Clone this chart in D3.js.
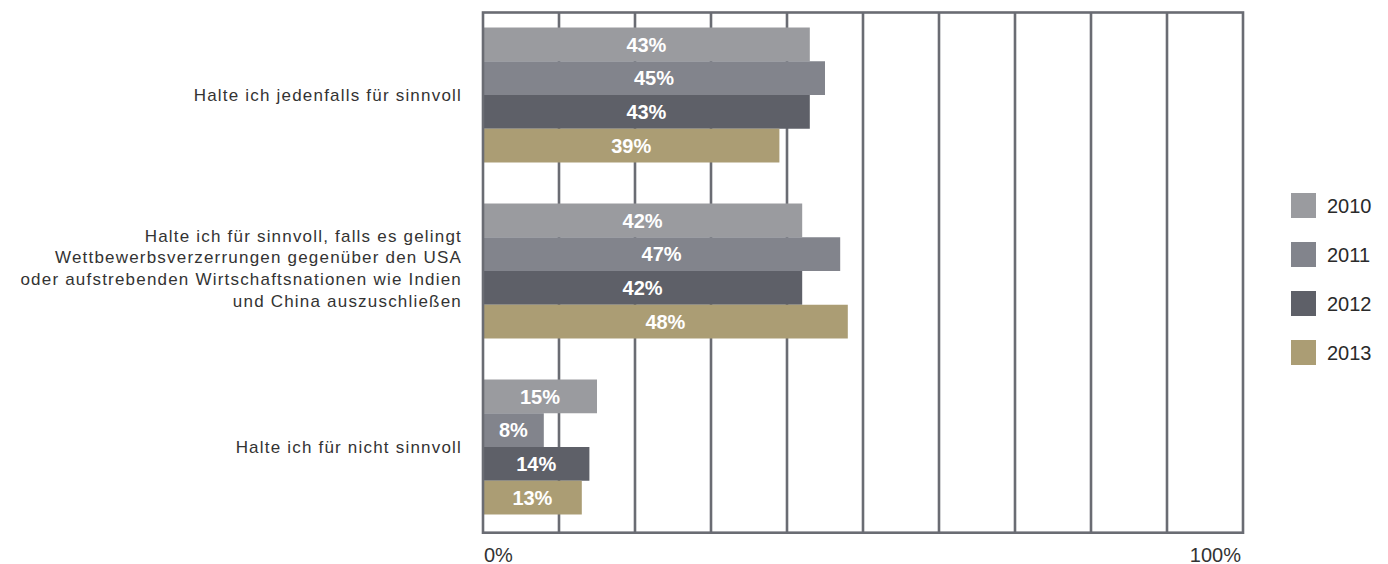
<!DOCTYPE html>
<html>
<head>
<meta charset="utf-8">
<script src="https://cdn.jsdelivr.net/npm/d3@7"></script>
<style>
  html, body { margin: 0; padding: 0; background: #fff; }
  svg { display: block; font-family: "Liberation Sans", Arial, sans-serif; }
</style>
</head>
<body>
<svg id="chart" width="1388" height="564"></svg>
<script>
// Survey answers (one group of bars per answer)
const categories = [
  ["Halte ich jedenfalls für sinnvoll"],
  ["Halte ich für sinnvoll, falls es gelingt",
   "Wettbewerbsverzerrungen gegenüber den USA",
   "oder aufstrebenden Wirtschaftsnationen wie Indien",
   "und China auszuschließen"],
  ["Halte ich für nicht sinnvoll"]
];
const years = ["2010", "2011", "2012", "2013"];
// Share in percent, one array per year, in category order
const values2010 = [43, 42, 15];
const values2011 = [45, 47, 8];
const values2012 = [43, 42, 14];
const values2013 = [39, 48, 13];
const tickLabels = ["0%", "100%"];
const gridTicks = [10, 20, 30, 40, 50, 60, 70, 80, 90];

const seriesByYear = [values2010, values2011, values2012, values2013];
const colors = ["#9a9b9f", "#82848c", "#5e6068", "#ab9d74"];
const frameColor = "#6a6c73";

const svg = d3.select("#chart");

const x = d3.scaleLinear().domain([0, 100]).range([483, 1243]);
const yGroup = d3.scaleBand()
  .domain(d3.range(categories.length))
  .range([7, 535])
  .paddingInner(0.233)
  .paddingOuter(0.1165);
const yBar = d3.scaleBand()
  .domain(years)
  .range([0, yGroup.bandwidth()])
  .padding(0);
const color = d3.scaleOrdinal().domain(years).range(colors);

const plotTop = 12.5, plotBottom = 532.7;

// vertical gridlines
svg.append("g")
  .selectAll("line")
  .data(gridTicks)
  .join("line")
  .attr("x1", d => x(d)).attr("x2", d => x(d))
  .attr("y1", plotTop).attr("y2", plotBottom)
  .attr("stroke", frameColor)
  .attr("stroke-width", 2.6);

// bars
const rows = [];
categories.forEach((c, ci) => {
  years.forEach((yr, yi) => rows.push({ ci, yr, v: seriesByYear[yi][ci] }));
});

const barG = svg.append("g");
barG.selectAll("rect")
  .data(rows)
  .join("rect")
  .attr("x", x(0) + 1)
  .attr("y", d => yGroup(d.ci) + yBar(d.yr))
  .attr("width", d => x(d.v) - x(0) - 1)
  .attr("height", yBar.bandwidth())
  .attr("fill", d => color(d.yr));

barG.selectAll("text")
  .data(rows)
  .join("text")
  .attr("x", d => (x(0) + x(d.v)) / 2)
  .attr("y", d => yGroup(d.ci) + yBar(d.yr) + yBar.bandwidth() / 2)
  .attr("dy", "0.36em")
  .attr("text-anchor", "middle")
  .attr("fill", "#fff")
  .attr("font-weight", "bold")
  .attr("font-size", 20)
  .text(d => d.v + "%");

// frame around the plot
svg.append("rect")
  .attr("x", x(0)).attr("y", plotTop)
  .attr("width", x(100) - x(0)).attr("height", plotBottom - plotTop)
  .attr("fill", "none")
  .attr("stroke", frameColor)
  .attr("stroke-width", 2.6);

// category labels
const lineH = 21.7;
const catG = svg.append("g");
categories.forEach((lines, ci) => {
  const cy = yGroup(ci) + yGroup.bandwidth() / 2 - (lines.length > 1 ? 3 : 0);
  const t = catG.append("text")
    .attr("text-anchor", "end")
    .attr("font-size", 17)
    .attr("letter-spacing", "1.2px")
    .attr("fill", "#333");
  lines.forEach((ln, li) => {
    t.append("tspan")
      .attr("x", 462)
      .attr("y", cy + (li - (lines.length - 1) / 2) * lineH)
      .attr("dy", "0.36em")
      .text(ln);
  });
});

// axis end labels
svg.append("text")
  .attr("x", x(0) + 1).attr("y", 561.5)
  .attr("text-anchor", "start")
  .attr("font-size", 20)
  .attr("fill", "#333")
  .text(tickLabels[0]);
svg.append("text")
  .attr("x", x(100) - 2).attr("y", 561.5)
  .attr("text-anchor", "end")
  .attr("font-size", 20)
  .attr("fill", "#333")
  .text(tickLabels[1]);

// legend
const legY = d3.scalePoint().domain(years).range([205.5, 352.5]);
const leg = svg.append("g")
  .selectAll("g")
  .data(years)
  .join("g")
  .attr("transform", d => `translate(1291,${legY(d)})`);
leg.append("rect")
  .attr("x", 0).attr("y", -12.5)
  .attr("width", 25).attr("height", 25)
  .attr("fill", d => color(d));
leg.append("text")
  .attr("x", 36).attr("y", 0)
  .attr("dy", "0.36em")
  .attr("font-size", 20)
  .attr("fill", "#2a2a2a")
  .text(d => d);
</script>
</body>
</html>
